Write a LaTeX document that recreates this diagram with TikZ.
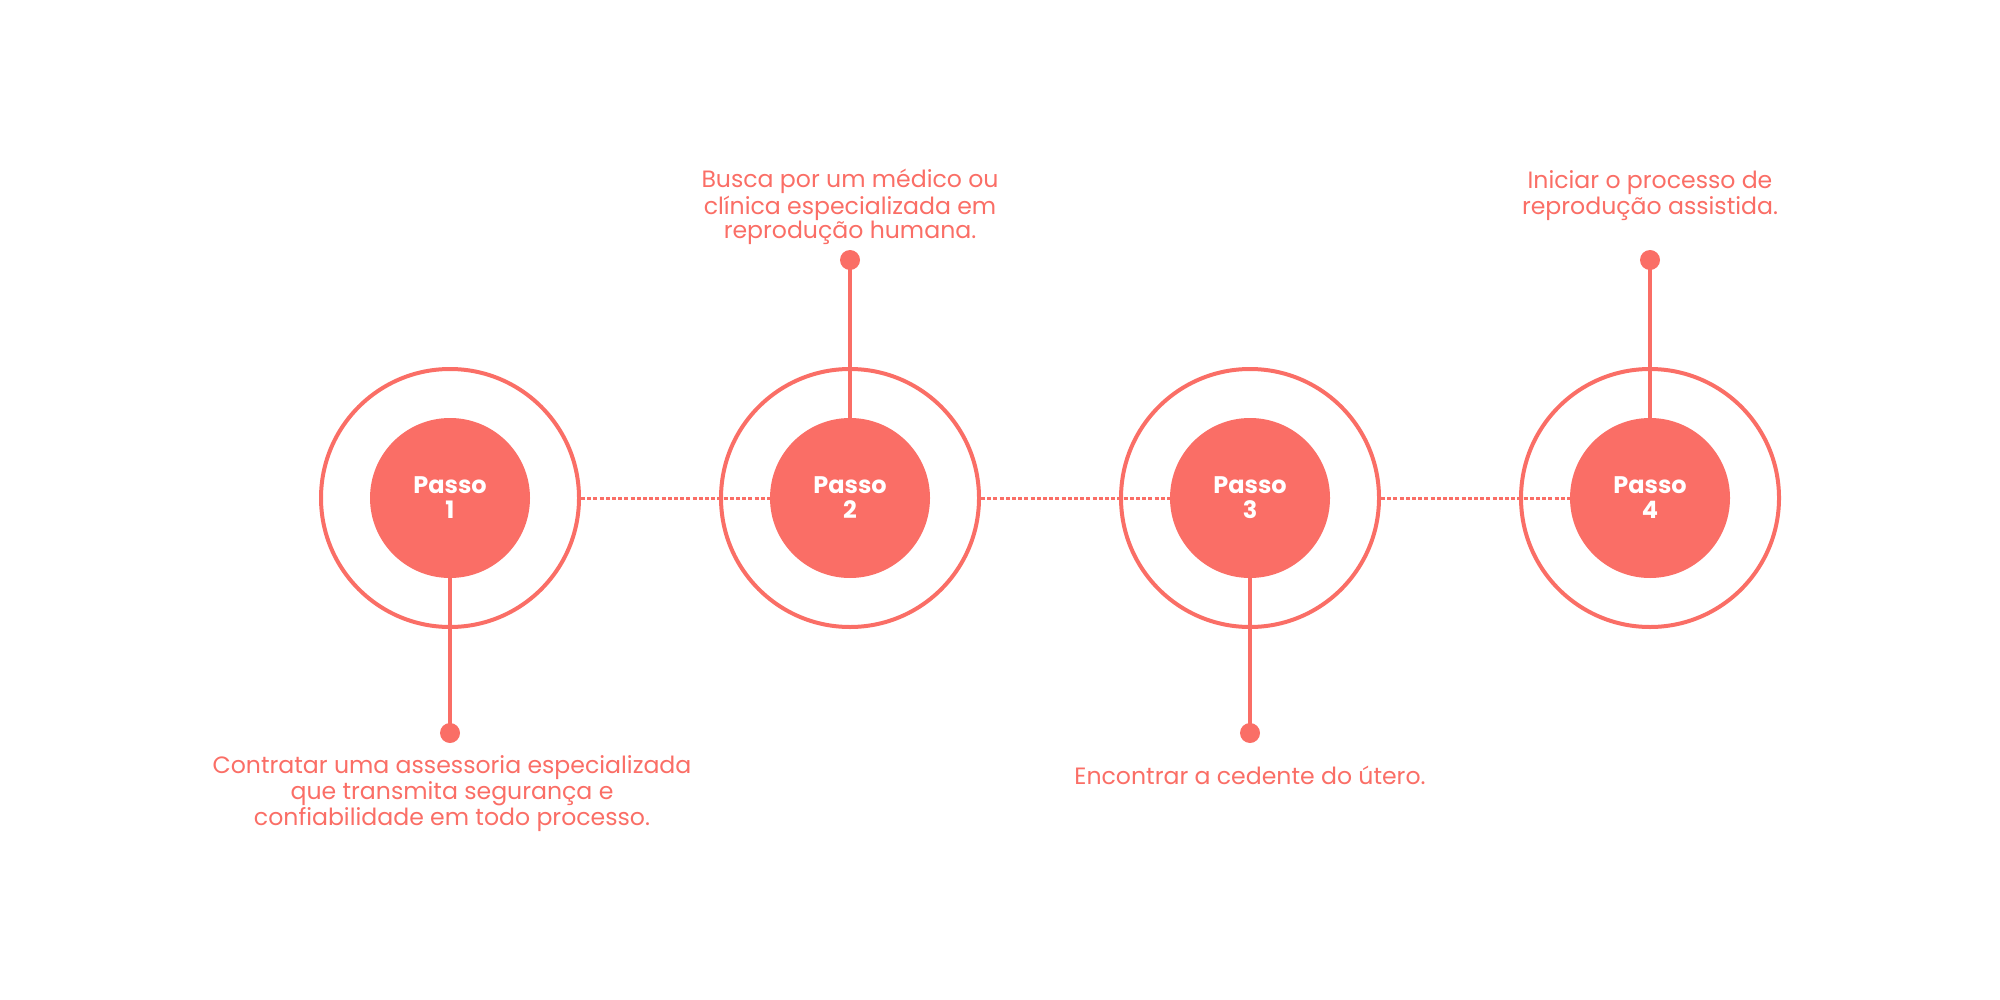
\documentclass[tikz,border=0pt]{standalone}
\usepackage{fontspec}
\setmainfont{Poppins}
\usepackage{xcolor}
\usepackage{tikz}
\definecolor{passored}{RGB}{250,110,102}

\begin{document}
\begin{tikzpicture}[x=0.5pt,y=-0.5pt,
    ring/.style={circle, draw=passored, line width=2pt, minimum size=129pt, inner sep=0pt},
    disk/.style={circle, fill=passored, minimum size=80pt, inner sep=0pt, text=white,
        align=center, font=\fontsize{12}{12.5}\selectfont\bfseries},
    dot/.style={circle, fill=passored, minimum size=10pt, inner sep=0pt},
    stem/.style={draw=passored, line width=1.8pt},
    link/.style={draw=passored, line width=1.5pt, dash pattern=on 2pt off 1.1pt},
    desc/.style={text=passored, align=center, inner sep=0pt, font=\fontsize{11.8}{12}\selectfont}]
    \useasboundingbox (0,0) rectangle (2000,1000);
    % outer rings
    \node[ring] (o1) at (450,498) {};
    \node[ring] (o2) at (850,498) {};
    \node[ring] (o3) at (1250,498) {};
    \node[ring] (o4) at (1650,498) {};
    % steps
    \node[disk] (p1) at (450,498) {Passo\\1};
    \node[disk] (p2) at (850,498) {Passo\\2};
    \node[disk] (p3) at (1250,498) {Passo\\3};
    \node[disk] (p4) at (1650,498) {Passo\\4};
    % dotted links between steps
    \draw[link] (o1.east) -- (p2.west);
    \draw[link] (o2.east) -- (p3.west);
    \draw[link] (o3.east) -- (p4.west);
    % stems with end dots
    \node[dot] (d1) at (450,733) {};
    \node[dot] (d2) at (850,260) {};
    \node[dot] (d3) at (1250,733) {};
    \node[dot] (d4) at (1650,260) {};
    \draw[stem] (p1.south) -- (d1.center);
    \draw[stem] (p2.north) -- (d2.center);
    \draw[stem] (p3.south) -- (d3.center);
    \draw[stem] (p4.north) -- (d4.center);
    % descriptions
    \node[desc, anchor=north] (t1) at (452,755) {Contratar uma assessoria especializada\\que transmita segurança e\\confiabilidade em todo processo.};
    \node[desc, anchor=south] (t2) at (850,245) {Busca por um médico ou\\clínica especializada em\\reprodução humana.};
    \node[desc, anchor=north] (t3) at (1250,766) {Encontrar a cedente do útero.};
    \node[desc, anchor=south] (t4) at (1650,221) {Iniciar o processo de\\reprodução assistida.};
\end{tikzpicture}
\end{document}
